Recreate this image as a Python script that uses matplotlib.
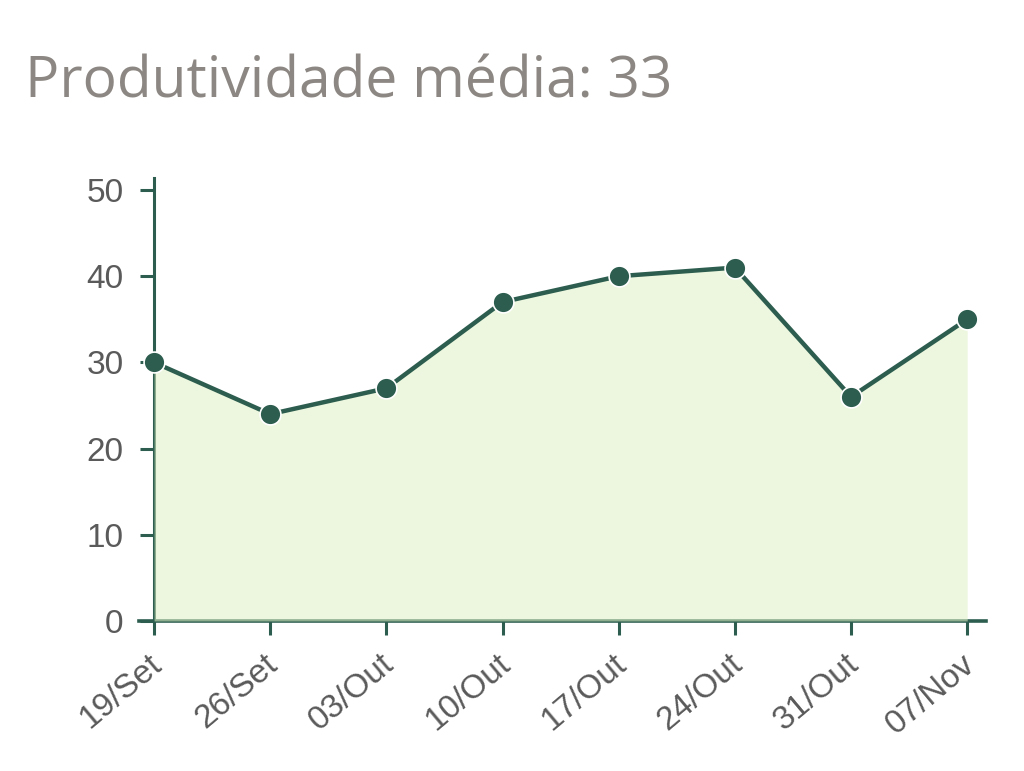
import matplotlib
matplotlib.use("Agg")
import matplotlib.pyplot as plt
from matplotlib.transforms import ScaledTranslation

# dados
datas = ["19/Set", "26/Set", "03/Out", "10/Out", "17/Out", "24/Out", "31/Out", "07/Nov"]
produtividade = [30, 24, 27, 37, 40, 41, 26, 35]
y_ticks = [0, 10, 20, 30, 40, 50]
titulo = "Produtividade média: 33"

verde_escuro = "#2c5d4e"
verde_area = "#dff1c5"

fig = plt.figure(figsize=(10.24, 7.71), dpi=100)
ax = fig.add_axes([0.1357, 0.1946, 0.827, 0.5746])

x = list(range(len(datas)))

# área semitransparente por cima dos eixos, linha e pontos por cima
ax.fill_between(x, produtividade, 0, color=verde_area, alpha=0.55, linewidth=0, zorder=3)
ax.plot(x, produtividade, color=verde_escuro, linewidth=3.2, zorder=4)
ax.plot(x, produtividade, linestyle="none", marker="o", markersize=15,
        markerfacecolor=verde_escuro, markeredgecolor="white", markeredgewidth=1.2, zorder=5)

ax.set_xlim(-0.13, 7.16)
ax.set_ylim(0, 51.4)

# eixos
for lado in ["top", "right"]:
    ax.spines[lado].set_visible(False)
ax.spines["left"].set_position(("data", 0))
ax.spines["left"].set_color(verde_escuro)
ax.spines["left"].set_linewidth(2.2)
ax.spines["bottom"].set_color(verde_escuro)
ax.spines["bottom"].set_linewidth(2.6)
ax.spines["left"].set_zorder(1)
ax.spines["bottom"].set_zorder(1)

ax.set_yticks(y_ticks)
ax.set_xticks(x)
ax.set_xticklabels(datas, rotation=40, ha="right", va="top", rotation_mode="anchor")

ax.tick_params(axis="both", direction="out", length=10, width=2.2, color=verde_escuro,
               labelsize=24, labelcolor="#5a5a5a")
ax.tick_params(axis="y", pad=12)
ax.tick_params(axis="x", pad=10)
desloca = ScaledTranslation(-6 / 100, 0, fig.dpi_scale_trans)
for lbl in ax.get_xticklabels():
    lbl.set_fontfamily("Liberation Sans")
    lbl.set_transform(lbl.get_transform() + desloca)
for lbl in ax.get_yticklabels():
    lbl.set_fontfamily("Liberation Sans")

# título
fig.text(0.024, 0.874, titulo, fontsize=41, color="#8c8782", family="Open Sans",
         ha="left", va="baseline")

fig.savefig("out.png", dpi=100, facecolor="white")
